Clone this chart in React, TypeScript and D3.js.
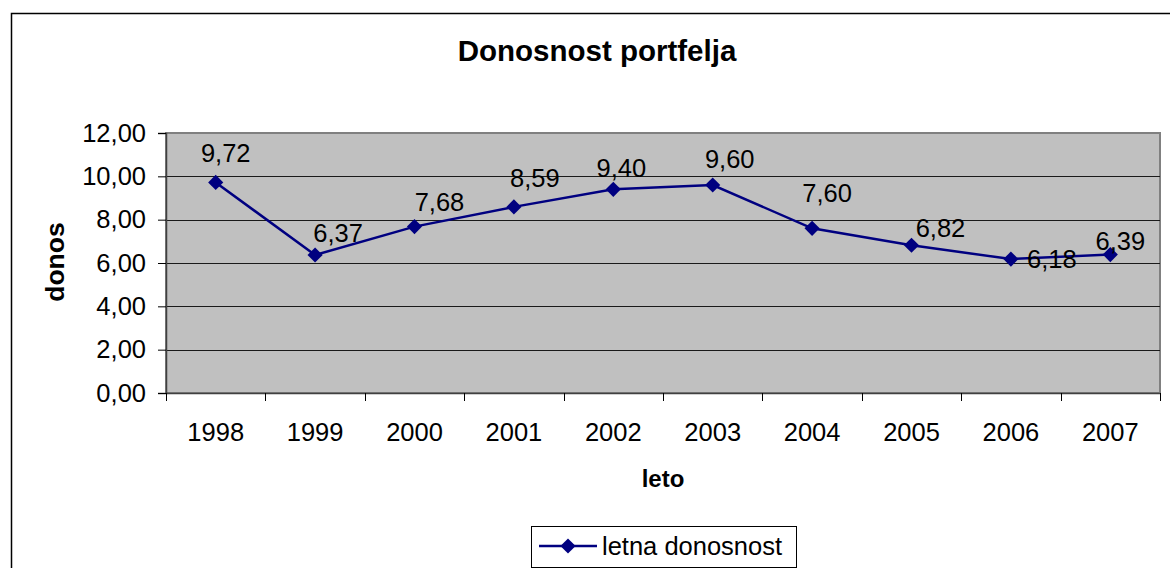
import { useEffect, useRef } from 'react';
import * as d3 from 'd3';

const years = ['1998', '1999', '2000', '2001', '2002', '2003', '2004', '2005', '2006', '2007'];
const returns = [9.72, 6.37, 7.68, 8.59, 9.4, 9.6, 7.6, 6.82, 6.18, 6.39];
const yTicks = [0, 2, 4, 6, 8, 10, 12];

// where Excel pushed each data label, relative to its point
const labelNudge: [number, number][] = [
  [10, -20], [23, -13], [25, -16], [21, -20], [8, -12],
  [17, -17], [15, -26], [29, -8], [41, 9], [10, -5],
];

const W = 1170;
const H = 568;
const fmt = (v: number) => v.toFixed(2).replace('.', ',');

export default function App() {
  const svgRef = useRef<SVGSVGElement>(null);

  useEffect(() => {
    if (!svgRef.current) return;
    const svg = d3.select(svgRef.current);
    svg.selectAll('*').remove();

    const plot = { left: 166, right: 1160, top: 133, bottom: 393 };
    const font = '"Liberation Sans", Arial, sans-serif';
    const fs = 25.5;

    const x = d3.scaleBand().domain(years).range([plot.left, plot.right]).padding(0);
    const y = d3.scaleLinear().domain([0, 12]).range([plot.bottom, plot.top]);

    // chart frame
    svg.append('rect')
      .attr('x', 11.5).attr('y', 13.5)
      .attr('width', W + 20).attr('height', H + 20)
      .attr('fill', '#fff').attr('stroke', '#000').attr('stroke-width', 1.5);

    // title
    svg.append('text')
      .attr('x', 597).attr('y', 61)
      .attr('text-anchor', 'middle')
      .attr('font-family', font).attr('font-size', 29.5).attr('font-weight', 'bold')
      .text('Donosnost portfelja');

    // plot area
    svg.append('rect')
      .attr('x', plot.left).attr('y', plot.top)
      .attr('width', plot.right - plot.left).attr('height', plot.bottom - plot.top)
      .attr('fill', '#c0c0c0').attr('stroke', '#808080').attr('stroke-width', 2);

    // gridlines
    svg.append('g')
      .selectAll('line')
      .data(yTicks.filter(t => t > 0 && t < 12))
      .join('line')
      .attr('x1', plot.left).attr('x2', plot.right)
      .attr('y1', d => Math.round(y(d)) + 0.5).attr('y2', d => Math.round(y(d)) + 0.5)
      .attr('stroke', '#1a1a1a').attr('stroke-width', 1.2);

    // y axis
    const yAxis = svg.append('g')
      .attr('transform', `translate(${plot.left},0)`)
      .call(d3.axisLeft(y).tickValues(yTicks).tickSize(8).tickPadding(12).tickFormat(d => fmt(+d)));
    yAxis.select('.domain').attr('stroke', '#404040').attr('stroke-width', 1.5);
    yAxis.selectAll('.tick line').attr('stroke', '#000');
    yAxis.selectAll('text')
      .attr('font-family', font).attr('font-size', fs).attr('fill', '#000');

    // x axis
    const xAxis = svg.append('g')
      .attr('transform', `translate(0,${plot.bottom})`)
      .call(d3.axisBottom(x).tickSize(0).tickPadding(30));
    xAxis.select('.domain').attr('stroke', '#404040').attr('stroke-width', 1.5);
    xAxis.selectAll('text')
      .attr('font-family', font).attr('font-size', fs).attr('fill', '#000');

    // category boundary ticks
    const bounds = years.map(yr => x(yr)!).concat([plot.right]);
    svg.append('g')
      .selectAll('line')
      .data(bounds)
      .join('line')
      .attr('x1', d => Math.round(d) + 0.5).attr('x2', d => Math.round(d) + 0.5)
      .attr('y1', plot.bottom).attr('y2', plot.bottom + 8)
      .attr('stroke', '#000');

    // axis titles
    svg.append('text')
      .attr('x', 663).attr('y', 487)
      .attr('text-anchor', 'middle')
      .attr('font-family', font).attr('font-size', 24).attr('font-weight', 'bold')
      .text('leto');

    svg.append('text')
      .attr('transform', `translate(64,262) rotate(-90)`)
      .attr('text-anchor', 'middle')
      .attr('font-family', font).attr('font-size', 26.5).attr('font-weight', 'bold')
      .text('donos');

    const cx = (i: number) => x(years[i])! + x.bandwidth() / 2;
    const line = d3.line<number>().x((_, i) => cx(i)).y(d => y(d));

    svg.append('path')
      .datum(returns)
      .attr('d', line)
      .attr('fill', 'none')
      .attr('stroke', '#000080')
      .attr('stroke-width', 2.5);

    const diamond = d3.symbol().type(d3.symbolSquare).size(115);
    svg.append('g')
      .selectAll('path')
      .data(returns)
      .join('path')
      .attr('d', diamond)
      .attr('transform', (d, i) => `translate(${cx(i)},${y(d)}) rotate(45)`)
      .attr('fill', '#000080');

    // data labels
    svg.append('g')
      .attr('font-family', font).attr('font-size', fs).attr('text-anchor', 'middle')
      .selectAll('text')
      .data(returns)
      .join('text')
      .attr('x', (d, i) => cx(i) + labelNudge[i][0])
      .attr('y', (d, i) => y(d) + labelNudge[i][1])
      .text(d => fmt(d));

    // legend
    const lg = svg.append('g');
    lg.append('rect')
      .attr('x', 531.5).attr('y', 526.5).attr('width', 265).attr('height', 41)
      .attr('fill', '#fff').attr('stroke', '#000').attr('stroke-width', 1);
    lg.append('line')
      .attr('x1', 539).attr('x2', 597).attr('y1', 546).attr('y2', 546)
      .attr('stroke', '#000080').attr('stroke-width', 2.5);
    lg.append('path')
      .attr('d', diamond)
      .attr('transform', 'translate(568,546) rotate(45)')
      .attr('fill', '#000080');
    lg.append('text')
      .attr('x', 602).attr('y', 555)
      .attr('font-family', font).attr('font-size', fs)
      .text('letna donosnost');
  }, []);

  return (
    <svg
      ref={svgRef}
      width={W}
      height={H}
      style={{ position: 'absolute', left: 0, top: 0, display: 'block', background: '#fff' }}
    />
  );
}
